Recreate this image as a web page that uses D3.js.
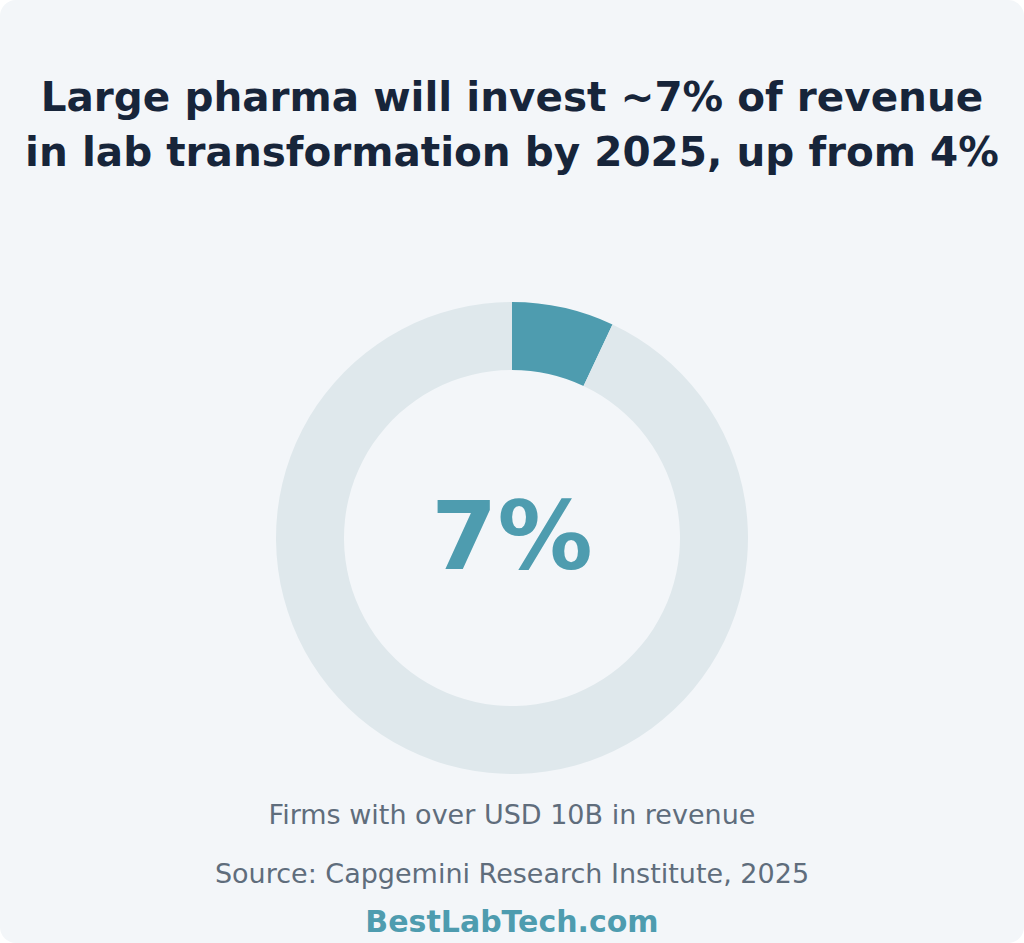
<!DOCTYPE html>
<html>
<head>
<meta charset="utf-8">
<script src="https://cdn.jsdelivr.net/npm/d3@7"></script>
<style>
  html, body { margin: 0; padding: 0; background: #ffffff; }
  svg { display: block; }
</style>
</head>
<body>
<script>
const w = 1024;
const h = 943;

const titleLines = ["Large pharma will invest ~7% of revenue", "in lab transformation by 2025, up from 4%"];
const categories = ["Lab transformation", "Other"];
const values = [7, 93];
const centerLabel = "7%";
const subtitle = "Firms with over USD 10B in revenue";
const source = "Source: Capgemini Research Institute, 2025";
const brand = "BestLabTech.com";

const colors = ["#4e9caf", "#dfe8ec"];
const cx = 512;
const cy = 538;
const outer = 236;
const inner = 168;

const svg = d3.select("body").append("svg").attr("width", w).attr("height", h);

svg.append("rect")
  .attr("width", w)
  .attr("height", h)
  .attr("rx", 16)
  .attr("fill", "#f3f6f9");

svg.selectAll("text.title")
  .data(titleLines)
  .enter()
  .append("text")
  .attr("class", "title")
  .attr("x", w / 2)
  .attr("y", (d, i) => 111 + i * 55)
  .attr("text-anchor", "middle")
  .attr("font-family", "DejaVu Sans")
  .attr("font-weight", "bold")
  .attr("font-size", 40.5)
  .attr("fill", "#17253a")
  .text((d) => d);

const pie = d3.pie().sort(null).value((d) => d);
const arc = d3.arc().innerRadius(inner).outerRadius(outer);

const g = svg.append("g").attr("transform", `translate(${cx}, ${cy})`);
g.selectAll("path")
  .data(pie(values))
  .enter()
  .append("path")
  .attr("d", arc)
  .attr("fill", (d, i) => colors[i]);

g.append("text")
  .attr("x", 0)
  .attr("y", 31)
  .attr("text-anchor", "middle")
  .attr("font-family", "DejaVu Sans")
  .attr("font-weight", "bold")
  .attr("font-size", 95)
  .attr("fill", "#4e9caf")
  .text(centerLabel);

svg.append("text")
  .attr("x", w / 2)
  .attr("y", 824)
  .attr("text-anchor", "middle")
  .attr("font-family", "DejaVu Sans")
  .attr("font-size", 27)
  .attr("fill", "#5f6d7c")
  .text(subtitle);

svg.append("text")
  .attr("x", w / 2)
  .attr("y", 883)
  .attr("text-anchor", "middle")
  .attr("font-family", "DejaVu Sans")
  .attr("font-size", 27)
  .attr("fill", "#5f6d7c")
  .text(source);

svg.append("text")
  .attr("x", w / 2)
  .attr("y", 932)
  .attr("text-anchor", "middle")
  .attr("font-family", "DejaVu Sans")
  .attr("font-weight", "bold")
  .attr("font-size", 30)
  .attr("fill", "#4e9caf")
  .text(brand);
</script>
</body>
</html>
